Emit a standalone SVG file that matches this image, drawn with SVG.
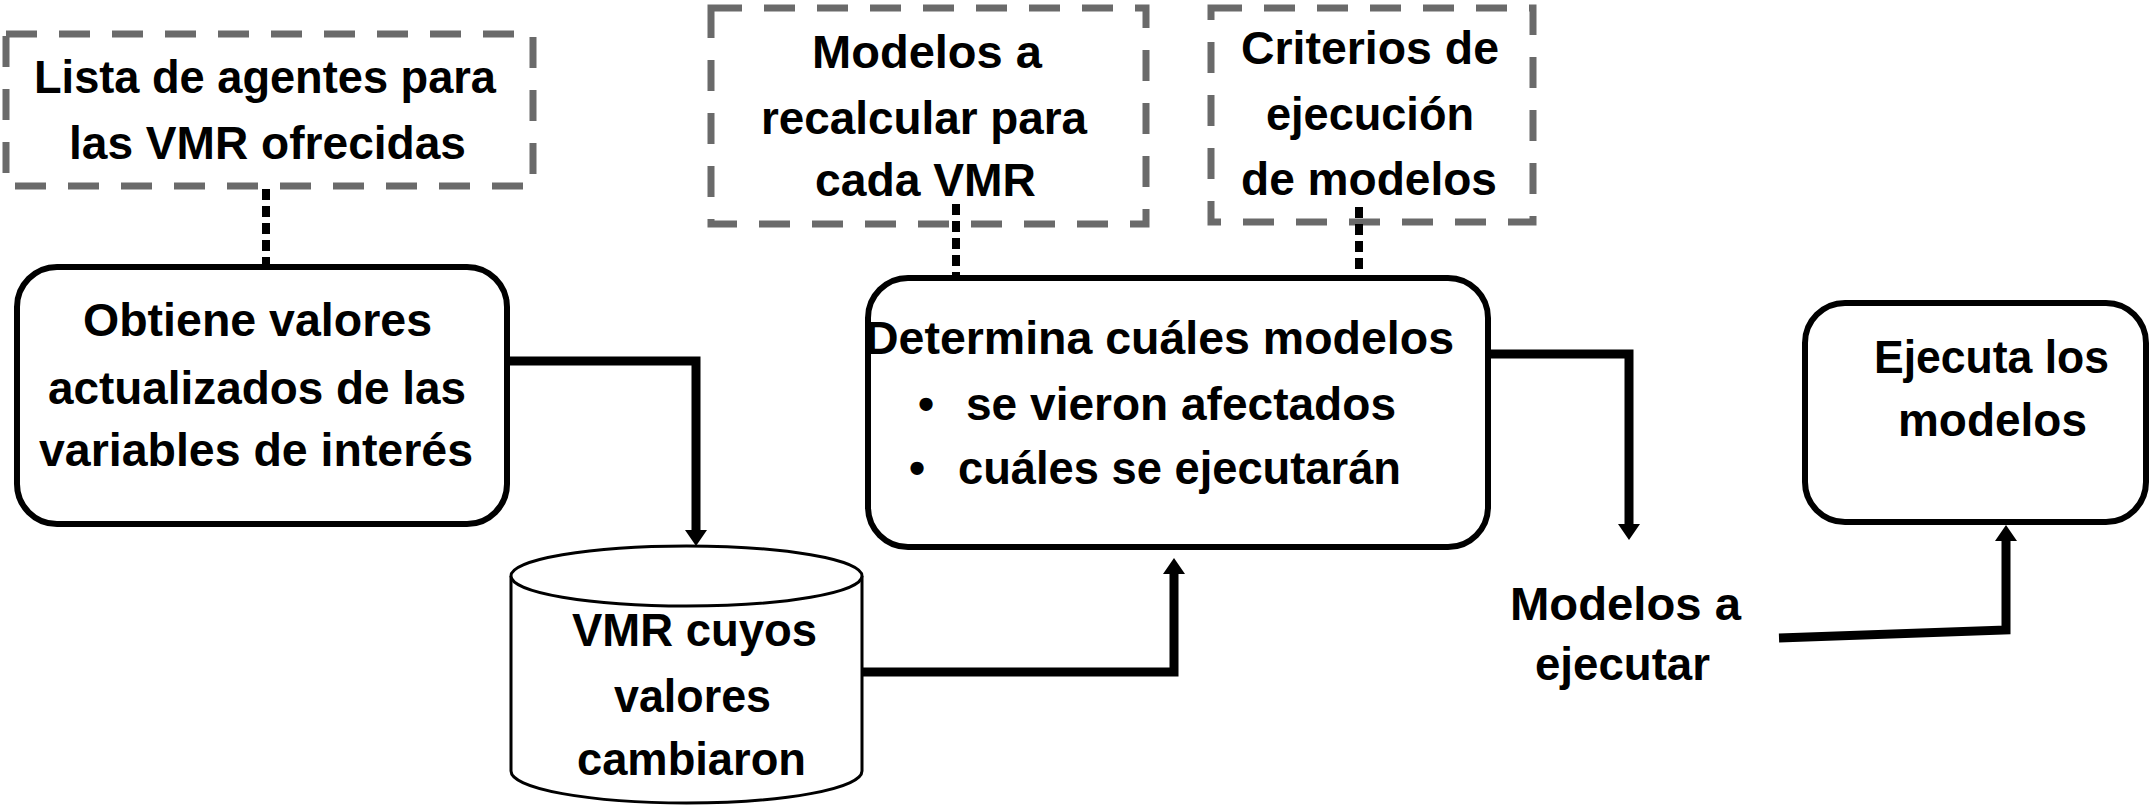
<svg xmlns="http://www.w3.org/2000/svg" width="2153" height="807" viewBox="0 0 2153 807">
<style>
.t{font-family:"Liberation Sans",Arial,sans-serif;font-weight:bold;font-size:46px;fill:#000;text-anchor:start}
.dash{fill:none;stroke:#6a6a6a;stroke-width:7;stroke-dasharray:31 22}
.box{fill:#fff;stroke:#000;stroke-width:6}
.dot{fill:none;stroke:#000;stroke-width:8;stroke-dasharray:11 6}
.con{fill:none;stroke:#000;stroke-width:9;marker-end:url(#ah)}
.cyl{fill:#fff;stroke:#000;stroke-width:3}
</style>
<defs>
<marker id="ah" markerUnits="userSpaceOnUse" markerWidth="20" markerHeight="22" refX="4" refY="11" orient="auto">
<path d="M0,0 L16,11 L0,22 z" fill="#000"/>
</marker>
</defs>
<rect width="2153" height="807" fill="#fff"/>
<g id="listaAgentes">
<rect class="dash" x="6" y="34" width="527" height="152"/>
<text class="t" x="34" y="93" textLength="462" lengthAdjust="spacingAndGlyphs">Lista de agentes para</text>
<text class="t" x="69" y="159" textLength="397" lengthAdjust="spacingAndGlyphs">las VMR ofrecidas</text>
</g>
<g id="modelosRecalcular">
<rect class="dash" x="711" y="8" width="435" height="216"/>
<text class="t" x="812" y="68" textLength="230" lengthAdjust="spacingAndGlyphs">Modelos a</text>
<text class="t" x="761" y="134" textLength="326" lengthAdjust="spacingAndGlyphs">recalcular para</text>
<text class="t" x="815" y="196" textLength="221" lengthAdjust="spacingAndGlyphs">cada VMR</text>
</g>
<g id="criterios">
<rect class="dash" x="1211" y="8" width="322" height="214"/>
<text class="t" x="1241" y="64" textLength="258" lengthAdjust="spacingAndGlyphs">Criterios de</text>
<text class="t" x="1266" y="130" textLength="208" lengthAdjust="spacingAndGlyphs">ejecución</text>
<text class="t" x="1241" y="195" textLength="256" lengthAdjust="spacingAndGlyphs">de modelos</text>
</g>
<g id="obtiene">
<rect class="box" x="17" y="267" width="490" height="257" rx="40"/>
<text class="t" x="83" y="336" textLength="349" lengthAdjust="spacingAndGlyphs">Obtiene valores</text>
<text class="t" x="48" y="404" textLength="418" lengthAdjust="spacingAndGlyphs">actualizados  de las</text>
<text class="t" x="39" y="466" textLength="434" lengthAdjust="spacingAndGlyphs">variables  de interés</text>
</g>
<g id="vmrCambiaron">
<path class="cyl" d="M511,576 V771 A175.5,32 0 0 0 862,771 V576"/>
<ellipse class="cyl" cx="686.5" cy="576" rx="175.5" ry="30"/>
<text class="t" x="572" y="646" textLength="245" lengthAdjust="spacingAndGlyphs">VMR cuyos</text>
<text class="t" x="614" y="712" textLength="157" lengthAdjust="spacingAndGlyphs">valores</text>
<text class="t" x="577" y="775" textLength="229" lengthAdjust="spacingAndGlyphs">cambiaron</text>
</g>
<g id="determina">
<rect class="box" x="868" y="278" width="620" height="269" rx="40"/>
<text class="t" x="865" y="354" textLength="589" lengthAdjust="spacingAndGlyphs">Determina cuáles modelos</text>
<text class="t" x="918" y="420">•</text>
<text class="t" x="966" y="420" textLength="430" lengthAdjust="spacingAndGlyphs">se vieron afectados</text>
<text class="t" x="909" y="484">•</text>
<text class="t" x="958" y="484" textLength="443" lengthAdjust="spacingAndGlyphs">cuáles se ejecutarán</text>
</g>
<g id="ejecuta">
<rect class="box" x="1805" y="303" width="341" height="219" rx="40"/>
<text class="t" x="1874" y="373" textLength="235" lengthAdjust="spacingAndGlyphs">Ejecuta los</text>
<text class="t" x="1898" y="436" textLength="189" lengthAdjust="spacingAndGlyphs">modelos</text>
</g>
<g id="modelosEjecutar">
<text class="t" x="1510" y="620" textLength="231" lengthAdjust="spacingAndGlyphs">Modelos a</text>
<text class="t" x="1535" y="680" textLength="175" lengthAdjust="spacingAndGlyphs">ejecutar</text>
</g>
<g id="connectors">
<path class="dot" d="M266,189 V264"/>
<path class="dot" d="M956,204 V275"/>
<path class="dot" d="M1359,207 V275"/>
<path class="con" d="M507,361 H696 V534"/>
<path class="con" d="M862,672 H1174 V570"/>
<path class="con" d="M1488,354 H1629 V528"/>
<path class="con" d="M1779,638 L2006,630 V537"/>
</g>
</svg>
